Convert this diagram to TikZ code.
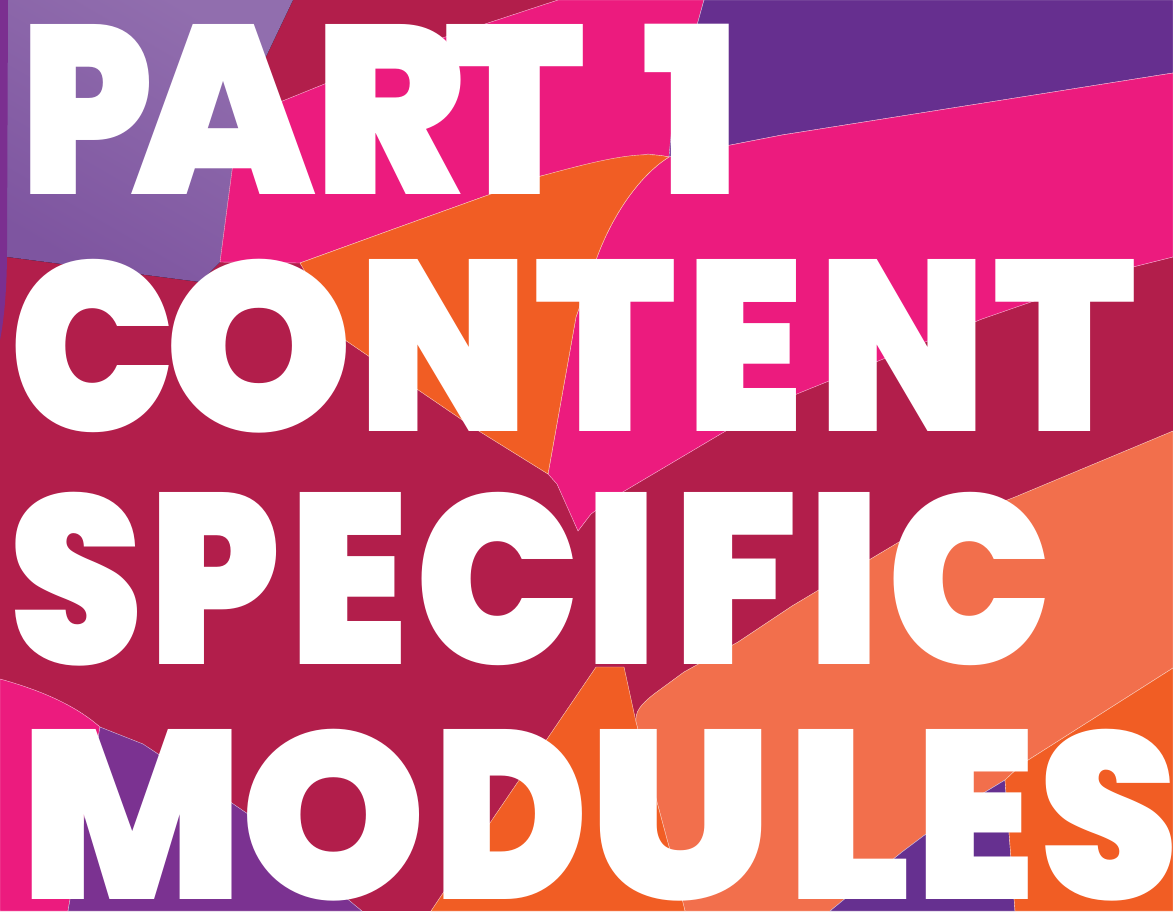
\documentclass[tikz,border=0pt]{standalone}
\usepackage{graphicx}
\usepackage{fontspec}
\newfontfamily\disp{Poppins}[UprightFont=* Black]
\definecolor{lav}{HTML}{7E55A0}
\definecolor{strip}{HTML}{7B2F90}
\definecolor{crim}{HTML}{B21E4B}
\definecolor{mag}{HTML}{EC1B7E}
\definecolor{purTR}{HTML}{662F8F}
\definecolor{ora}{HTML}{F15D24}
\definecolor{sal}{HTML}{F26F4C}
\definecolor{purBL}{HTML}{7B3291}
\definecolor{purBR}{HTML}{663090}
\newdimen\glw
\def\glh{170pt}
% \gl{advance}{ink width}{letter}
\newcommand\gl[3]{\makebox[#1pt][l]{\glw=#2pt\advance\glw by 16pt\kern-8pt\resizebox{\glw}{\glh}{#3}}}
\tikzset{
  region/.style={draw=white!70!#1, line width=0.4pt, fill=#1},
  title/.style={anchor=north west, inner sep=0pt, text=white, font=\disp}
}
\begin{document}
\begin{tikzpicture}[x=1pt,y=-1pt]
\useasboundingbox (0,0) rectangle (1173,911);
\fill[crim] (0,0) rectangle (1173,911);
% top-left lavender
\fill[top color=lav!85!white, bottom color=lav, shading angle=-30] (0,0)--(293,0)--(243,105)--(233,163)--(220,262)--(200,282)--(0,256)--cycle;
\fill[strip] (0,0)--(8,0)--(7,250) .. controls (7,290) and (4,320) .. (0,340)--cycle;
% magenta top
\path[region=mag] (243,110)--(280,102)--(421,45)--(558,0)--(704,0)--(681,83)--(669,157)--(648,154)--(541,176)--(391,230)--(300,263)--(220,262)--(233,163)--cycle;
% purple top right
\path[region=purTR] (704,0)--(1173,0)--(1173,73)--(782,135)--(669,157) .. controls (672,120) and (676,100) .. (681,83)--cycle;
% magenta middle
\path[region=mag] (669,157)--(782,135)--(1173,73)--(1173,257)--(1129,268)--(982,319)--(782,400)--(724,432)--(611,499)--(591,514)--(578,531)--(557,484)--(548,474)--(576,317)--(596,260) .. controls (612,215) and (640,175) .. (669,157)--cycle;
% orange middle
\path[region=ora] (300,263)--(391,230)--(541,176) .. controls (600,160) and (640,150) .. (669,157) .. controls (640,175) and (612,215) .. (596,260)--(576,317)--(548,474)--(474,428)--(408,383)--(345,340)--cycle;
% salmon
\path[region=sal] (1173,431)--(1015,497)--(899,542)--(792,606)--(738,642)--(684,672)--(654,694) .. controls (640,705) and (635,712) .. (636,722)--(651,780)--(671,854)--(685,911)--(830,911)--(902,852)--(922,837)--(977,797)--(1005,780)--(1022,764)--(1173,668)--cycle;
% orange bottom middle
\path[region=ora] (596,667)--(624,667)--(636,722)--(651,780)--(671,854)--(685,911)--(431,911)--(494,817)--(543,745)--cycle;
% purple bottom right
\path[region=purBR] (830,911)--(902,852)--(922,837)--(977,797)--(1005,780)--(1015,911)--cycle;
% orange bottom right
\path[region=ora] (1173,668)--(1022,764)--(1005,780)--(1015,911)--(1173,911)--cycle;
% magenta bottom left
\path[region=mag] (0,679) .. controls (40,690) and (75,705) .. (100,727)--(68,911)--(0,911)--cycle;
% purple bottom left
\path[region=purBL] (100,727)--(143,744)--(223,797)--(248,814)--(345,897)--(362,911)--(68,911)--cycle;
% title lines
\node[title] (l1) at (28,24) {\def\glh{170pt}\gl{111}{117}{P}\gl{183}{168}{A}\gl{130}{135}{R}\gl{125}{125}{T}\makebox[73pt]{ }\gl{83}{83}{1}};
\node[title] (l2) at (17,259) {\def\glh{172pt}\gl{155}{150}{C}\gl{194}{173}{O}\gl{176}{154}{N}\gl{152}{126}{T}\gl{132}{101}{E}\gl{175}{152}{N}\gl{127}{127}{T}};
\node[title] (l3) at (17,492) {\def\glh{172pt}\gl{140}{118}{S}\gl{140}{115}{P}\gl{126}{103}{E}\gl{169}{148}{C}\gl{89}{58}{I}\gl{134}{109}{F}\gl{80}{58}{I}\gl{148}{148}{C}};
\node[title] (l4) at (28,729) {\def\glh{170pt}\gl{220}{207}{M}\gl{193}{170}{O}\gl{155}{139}{D}\gl{198}{169}{U}\gl{129}{109}{L}\gl{124}{104}{E}\gl{125}{123}{S}};
\end{tikzpicture}
\end{document}
